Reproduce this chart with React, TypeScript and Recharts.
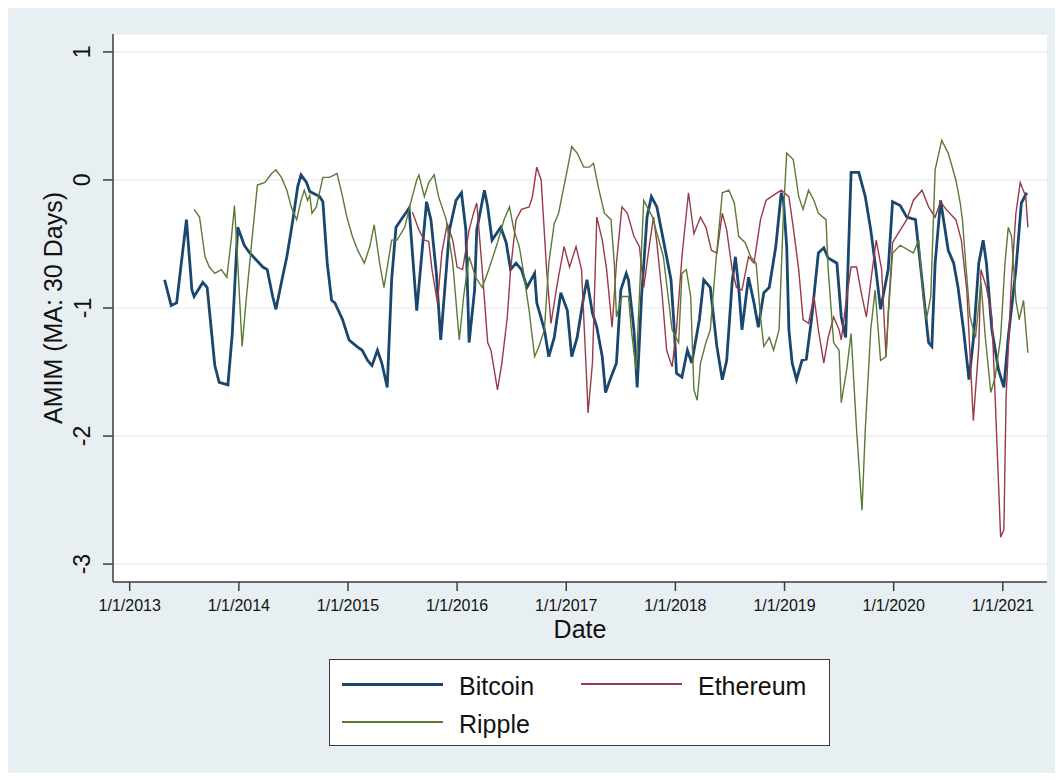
import { CartesianGrid, Line, LineChart, XAxis, YAxis } from "recharts";

// [decimal year, AMIM 30-day moving average]
const bitcoin: [number, number][] = [
  [2013.32, -0.78], [2013.35, -0.88], [2013.38, -0.98], [2013.43, -0.96], [2013.52, -0.31], [2013.57, -0.86],
  [2013.59, -0.91], [2013.67, -0.8], [2013.71, -0.84], [2013.78, -1.45], [2013.82, -1.58], [2013.9, -1.6],
  [2013.94, -1.2], [2013.99, -0.37], [2014.05, -0.51], [2014.1, -0.57], [2014.22, -0.68], [2014.26, -0.7],
  [2014.31, -0.91], [2014.34, -1.01], [2014.4, -0.76], [2014.44, -0.6], [2014.49, -0.34], [2014.54, -0.05],
  [2014.57, 0.04], [2014.62, -0.02], [2014.65, -0.09], [2014.74, -0.13], [2014.77, -0.17], [2014.81, -0.65],
  [2014.85, -0.94], [2014.88, -0.96], [2014.95, -1.09], [2015.01, -1.25], [2015.08, -1.3], [2015.13, -1.33],
  [2015.18, -1.41], [2015.22, -1.45], [2015.27, -1.33], [2015.31, -1.43], [2015.36, -1.62], [2015.4, -0.78],
  [2015.44, -0.37], [2015.52, -0.27], [2015.56, -0.22], [2015.63, -1.02], [2015.72, -0.17], [2015.76, -0.31],
  [2015.81, -0.73], [2015.85, -1.25], [2015.93, -0.39], [2015.99, -0.16], [2016.04, -0.1], [2016.08, -0.39],
  [2016.11, -1.27], [2016.16, -0.86], [2016.18, -0.39], [2016.25, -0.08], [2016.28, -0.21], [2016.32, -0.47],
  [2016.4, -0.37], [2016.45, -0.49], [2016.49, -0.7], [2016.54, -0.65], [2016.59, -0.7], [2016.64, -0.84],
  [2016.71, -0.73], [2016.73, -0.96], [2016.8, -1.17], [2016.84, -1.38], [2016.89, -1.23], [2016.95, -0.88],
  [2017.01, -1.02], [2017.05, -1.38], [2017.1, -1.23], [2017.16, -0.91], [2017.19, -0.78], [2017.24, -1.04],
  [2017.28, -1.15], [2017.33, -1.38], [2017.36, -1.66], [2017.41, -1.54], [2017.46, -1.43], [2017.5, -0.86],
  [2017.55, -0.73], [2017.57, -0.78], [2017.62, -1.17], [2017.65, -1.62], [2017.69, -0.91], [2017.74, -0.29],
  [2017.78, -0.13], [2017.83, -0.21], [2017.89, -0.47], [2017.96, -0.78], [2017.99, -1.17], [2018.01, -1.51],
  [2018.06, -1.54], [2018.11, -1.33], [2018.15, -1.43], [2018.22, -1.09], [2018.26, -0.78], [2018.32, -0.84],
  [2018.38, -1.3], [2018.43, -1.56], [2018.47, -1.41], [2018.52, -0.8], [2018.55, -0.6], [2018.58, -0.84],
  [2018.61, -1.17], [2018.67, -0.76], [2018.72, -0.96], [2018.76, -1.15], [2018.81, -0.88], [2018.86, -0.84],
  [2018.92, -0.52], [2018.97, -0.1], [2018.99, -0.16], [2019.02, -0.52], [2019.04, -1.17], [2019.07, -1.43],
  [2019.11, -1.56], [2019.16, -1.41], [2019.2, -1.4], [2019.25, -1.07], [2019.31, -0.57], [2019.36, -0.53],
  [2019.4, -0.61], [2019.48, -0.65], [2019.52, -1.07], [2019.56, -1.23], [2019.61, 0.06], [2019.68, 0.06],
  [2019.74, -0.13], [2019.79, -0.39], [2019.83, -0.65], [2019.88, -1.01], [2019.95, -0.7], [2019.99, -0.17],
  [2020.06, -0.2], [2020.12, -0.29], [2020.2, -0.31], [2020.26, -0.78], [2020.32, -1.27], [2020.35, -1.3],
  [2020.38, -0.65], [2020.43, -0.16], [2020.5, -0.55], [2020.55, -0.65], [2020.59, -0.84], [2020.64, -1.17],
  [2020.69, -1.56], [2020.73, -1.25], [2020.78, -0.65], [2020.82, -0.47], [2020.85, -0.65], [2020.9, -1.17],
  [2020.96, -1.48], [2021.01, -1.62], [2021.05, -1.23], [2021.12, -0.7], [2021.17, -0.18], [2021.22, -0.1],
];

const ethereum: [number, number][] = [
  [2015.59, -0.25], [2015.65, -0.39], [2015.7, -0.47], [2015.74, -0.48], [2015.77, -0.7], [2015.82, -0.96],
  [2015.86, -0.57], [2015.91, -0.34], [2015.96, -0.47], [2016.0, -0.68], [2016.05, -0.7], [2016.11, -0.39],
  [2016.16, -0.23], [2016.18, -0.18], [2016.23, -0.7], [2016.28, -1.27], [2016.31, -1.33], [2016.37, -1.64],
  [2016.41, -1.43], [2016.46, -1.07], [2016.49, -0.7], [2016.54, -0.31], [2016.59, -0.23], [2016.66, -0.21],
  [2016.69, -0.13], [2016.73, 0.1], [2016.77, 0.0], [2016.82, -0.7], [2016.86, -1.12], [2016.92, -0.8],
  [2016.98, -0.52], [2017.03, -0.68], [2017.09, -0.52], [2017.14, -0.7], [2017.18, -1.43], [2017.2, -1.82],
  [2017.24, -1.43], [2017.28, -0.29], [2017.33, -0.47], [2017.37, -0.7], [2017.42, -1.15], [2017.46, -0.65],
  [2017.51, -0.21], [2017.56, -0.26], [2017.62, -0.44], [2017.67, -0.52], [2017.71, -0.84], [2017.76, -0.52],
  [2017.8, -0.29], [2017.83, -0.49], [2017.88, -0.91], [2017.92, -1.33], [2017.97, -1.46], [2018.01, -1.17],
  [2018.06, -0.6], [2018.12, -0.1], [2018.17, -0.42], [2018.23, -0.29], [2018.28, -0.37], [2018.33, -0.55],
  [2018.38, -0.57], [2018.43, -0.26], [2018.47, -0.39], [2018.52, -0.7], [2018.56, -0.84], [2018.61, -0.86],
  [2018.67, -0.6], [2018.72, -0.65], [2018.78, -0.31], [2018.83, -0.16], [2018.88, -0.13], [2018.97, -0.08],
  [2019.04, -0.13], [2019.08, -0.37], [2019.13, -0.7], [2019.17, -1.09], [2019.22, -1.12], [2019.27, -0.91],
  [2019.31, -1.17], [2019.36, -1.43], [2019.4, -1.23], [2019.45, -1.07], [2019.5, -1.17], [2019.52, -1.25],
  [2019.57, -0.91], [2019.61, -0.68], [2019.66, -0.68], [2019.71, -0.91], [2019.75, -1.07], [2019.8, -0.73],
  [2019.84, -0.47], [2019.89, -0.7], [2019.93, -1.38], [2019.95, -1.04], [2019.99, -0.49], [2020.04, -0.42],
  [2020.12, -0.31], [2020.18, -0.16], [2020.26, -0.08], [2020.32, -0.21], [2020.38, -0.29], [2020.43, -0.17],
  [2020.48, -0.23], [2020.57, -0.31], [2020.62, -0.47], [2020.67, -0.86], [2020.73, -1.88], [2020.78, -1.3],
  [2020.8, -0.7], [2020.85, -0.84], [2020.9, -1.07], [2020.93, -1.7], [2020.98, -2.79], [2021.01, -2.73],
  [2021.03, -1.7], [2021.08, -0.78], [2021.12, -0.26], [2021.16, -0.02], [2021.21, -0.13], [2021.23, -0.37],
];

const ripple: [number, number][] = [
  [2013.59, -0.23], [2013.64, -0.29], [2013.69, -0.6], [2013.73, -0.68], [2013.78, -0.73], [2013.84, -0.7],
  [2013.89, -0.76], [2013.93, -0.47], [2013.96, -0.2], [2013.99, -0.65], [2014.03, -1.3], [2014.07, -0.91],
  [2014.12, -0.47], [2014.17, -0.04], [2014.24, -0.02], [2014.3, 0.05], [2014.34, 0.08], [2014.39, 0.02],
  [2014.44, -0.08], [2014.48, -0.21], [2014.53, -0.31], [2014.57, -0.16], [2014.6, -0.08], [2014.63, -0.16],
  [2014.65, -0.12], [2014.67, -0.26], [2014.71, -0.21], [2014.77, 0.02], [2014.83, 0.02], [2014.9, 0.05],
  [2014.95, -0.13], [2014.99, -0.29], [2015.04, -0.44], [2015.09, -0.55], [2015.15, -0.65], [2015.2, -0.52],
  [2015.24, -0.35], [2015.29, -0.65], [2015.33, -0.84], [2015.4, -0.47], [2015.45, -0.47], [2015.52, -0.37],
  [2015.58, -0.16], [2015.63, 0.0], [2015.65, 0.04], [2015.7, -0.13], [2015.74, -0.02], [2015.79, 0.04],
  [2015.83, -0.13], [2015.9, -0.31], [2015.96, -0.65], [2016.02, -1.25], [2016.06, -0.91], [2016.11, -0.6],
  [2016.17, -0.76], [2016.23, -0.84], [2016.29, -0.7], [2016.37, -0.49], [2016.43, -0.31], [2016.48, -0.21],
  [2016.52, -0.39], [2016.57, -0.52], [2016.61, -0.73], [2016.66, -1.02], [2016.71, -1.38], [2016.75, -1.3],
  [2016.8, -1.17], [2016.84, -0.65], [2016.89, -0.34], [2016.93, -0.26], [2016.96, -0.13], [2017.01, 0.08],
  [2017.05, 0.26], [2017.1, 0.21], [2017.16, 0.1], [2017.21, 0.1], [2017.25, 0.13], [2017.3, -0.08],
  [2017.35, -0.26], [2017.41, -0.31], [2017.44, -0.65], [2017.46, -1.07], [2017.51, -0.91], [2017.57, -0.91],
  [2017.6, -1.2], [2017.64, -1.48], [2017.67, -0.91], [2017.71, -0.16], [2017.79, -0.29], [2017.89, -0.6],
  [2017.97, -1.17], [2018.03, -1.27], [2018.06, -0.73], [2018.1, -0.7], [2018.14, -0.91], [2018.17, -1.64],
  [2018.2, -1.72], [2018.23, -1.43], [2018.28, -1.27], [2018.32, -1.17], [2018.37, -0.65], [2018.43, -0.1],
  [2018.49, -0.08], [2018.54, -0.18], [2018.58, -0.44], [2018.64, -0.49], [2018.69, -0.6], [2018.74, -0.65],
  [2018.78, -1.07], [2018.81, -1.3], [2018.86, -1.23], [2018.9, -1.33], [2018.95, -1.17], [2018.99, -0.26],
  [2019.02, 0.21], [2019.08, 0.16], [2019.13, -0.13], [2019.17, -0.23], [2019.22, -0.08], [2019.27, -0.16],
  [2019.31, -0.26], [2019.38, -0.31], [2019.4, -0.7], [2019.45, -1.27], [2019.5, -1.33], [2019.52, -1.74],
  [2019.57, -1.48], [2019.61, -1.2], [2019.66, -1.95], [2019.71, -2.58], [2019.74, -1.95], [2019.79, -1.17],
  [2019.83, -0.86], [2019.88, -1.41], [2019.93, -1.38], [2019.95, -1.07], [2019.99, -0.57], [2020.06, -0.51],
  [2020.18, -0.57], [2020.23, -0.47], [2020.27, -0.91], [2020.3, -1.09], [2020.34, -0.91], [2020.38, 0.08],
  [2020.44, 0.31], [2020.5, 0.21], [2020.57, 0.0], [2020.61, -0.18], [2020.63, -0.31], [2020.66, -0.65],
  [2020.7, -1.07], [2020.75, -1.23], [2020.8, -0.8], [2020.84, -1.23], [2020.89, -1.66], [2020.93, -1.54],
  [2020.98, -1.23], [2021.02, -0.65], [2021.05, -0.37], [2021.08, -0.44], [2021.12, -0.94], [2021.15, -1.09],
  [2021.19, -0.94], [2021.23, -1.35],
];

const yearTicks = [2013, 2014, 2015, 2016, 2017, 2018, 2019, 2020, 2021];
const valueTicks = [-3, -2, -1, 0, 1];

const FONT = "'Liberation Sans', Arial, Helvetica, sans-serif";
const NAVY = "#1a476f";
const MAROON = "#9a3a48";
const GREEN = "#5a7a35";
const AXIS = "#3c3c3c";

const toRows = (pts: [number, number][]) => pts.map(([t, v]) => ({ t, v }));

function YTick({ y, payload }: any) {
  const cx = 74.5;
  return (
    <text
      x={cx}
      y={y}
      transform={`rotate(-90 ${cx} ${y})`}
      textAnchor="middle"
      dominantBaseline="central"
      fontSize={23}
      fontFamily={FONT}
      fill="#111"
    >
      {payload.value}
    </text>
  );
}

function LegendRow({ color, width, label, left, top }: { color: string; width: number; label: string; left: number; top: number }) {
  return (
    <>
      <div style={{ position: "absolute", left, top: top - width / 2, width: 101, height: width, background: color }} />
      <div style={{ position: "absolute", left: left + 117, top: top - 10.5, fontSize: 25, lineHeight: "25px", color: "#111", whiteSpace: "nowrap" }}>
        {label}
      </div>
    </>
  );
}

export default function App() {
  return (
    <div style={{ position: "relative", width: 1048, height: 765, background: "#e8eff2", fontFamily: FONT }}>
      <LineChart width={1048} height={765} margin={{ top: 26, right: 9, bottom: 0, left: 0 }}>
        <CartesianGrid vertical={false} stroke="#e6e9eb" strokeWidth={1.2} fill="#ffffff" />
        <XAxis
          dataKey="t"
          type="number"
          domain={[2012.847, 2021.405]}
          allowDataOverflow
          ticks={yearTicks}
          tickFormatter={(v: number) => `1/1/${v}`}
          height={191}
          tickSize={9}
          tickMargin={9}
          axisLine={{ stroke: AXIS, strokeWidth: 1.5 }}
          tickLine={{ stroke: AXIS, strokeWidth: 1.5 }}
          tick={{ fontSize: 16, fill: "#111", fontFamily: FONT }}
        />
        <YAxis
          type="number"
          domain={[-3.14, 1.14]}
          allowDataOverflow
          ticks={valueTicks}
          width={105}
          tickSize={10}
          axisLine={{ stroke: AXIS, strokeWidth: 1.5 }}
          tickLine={{ stroke: AXIS, strokeWidth: 1.5 }}
          tick={<YTick />}
        />
        <Line data={toRows(bitcoin)} dataKey="v" type="linear" stroke={NAVY} strokeWidth={2.8} dot={false} isAnimationActive={false} />
        <Line data={toRows(ethereum)} dataKey="v" type="linear" stroke={MAROON} strokeWidth={1.4} dot={false} isAnimationActive={false} />
        <Line data={toRows(ripple)} dataKey="v" type="linear" stroke={GREEN} strokeWidth={1.4} dot={false} isAnimationActive={false} />
      </LineChart>

      <div
        style={{
          position: "absolute",
          left: 45,
          top: 300,
          transform: "translate(-50%, -50%) rotate(-90deg)",
          fontSize: 25,
          lineHeight: "25px",
          whiteSpace: "nowrap",
          color: "#111",
        }}
      >
        AMIM (MA: 30 Days)
      </div>
      <div style={{ position: "absolute", left: 572, top: 609, transform: "translateX(-50%)", fontSize: 25, lineHeight: "25px", color: "#111" }}>
        Date
      </div>

      <div
        style={{
          position: "absolute",
          left: 321,
          top: 651,
          width: 501,
          height: 87,
          boxSizing: "border-box",
          border: "1.5px solid #3a3a3a",
          background: "#fff",
        }}
      >
        <LegendRow color={NAVY} width={3} label="Bitcoin" left={12} top={24} />
        <LegendRow color={MAROON} width={2} label="Ethereum" left={251} top={24} />
        <LegendRow color={GREEN} width={2} label="Ripple" left={12} top={62} />
      </div>
    </div>
  );
}
